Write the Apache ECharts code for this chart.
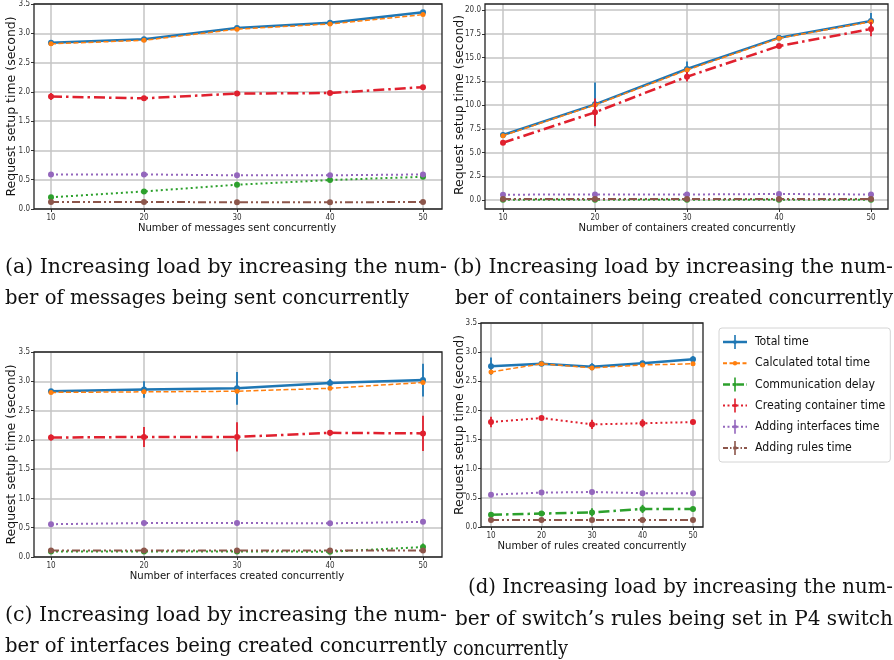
<!DOCTYPE html>
<html>
<head>
<meta charset="utf-8">
<script src="https://cdn.jsdelivr.net/npm/echarts@6/dist/echarts.min.js"></script>
<style>
html, body { margin: 0; padding: 0; background: #fff; }
#chart { width: 894px; height: 660px; }
</style>
</head>
<body>
<div id="chart"></div>
<script>
// x values shared by all four panels
const xValues = [10, 20, 30, 40, 50];

const seriesNames = ['Total time', 'Calculated total time', 'Communication delay',
  'Creating container time', 'Adding interfaces time', 'Adding rules time'];

// (a) messages sent concurrently
const aTotal = [2.84, 2.90, 3.09, 3.18, 3.36];
const aTotalErr = [0.03, 0.02, 0.02, 0.02, 0.03];
const aCalc = [2.82, 2.88, 3.07, 3.16, 3.32];
const aComm = [0.20, 0.30, 0.415, 0.495, 0.55];
const aCont = [1.92, 1.89, 1.97, 1.98, 2.08];
const aContErr = [0.06, 0.02, 0.03, 0.03, 0.03];
const aIntf = [0.59, 0.59, 0.575, 0.575, 0.59];
const aRules = [0.12, 0.12, 0.115, 0.115, 0.12];

// (b) containers created concurrently
const bTotal = [6.84, 10.07, 13.79, 17.09, 18.84];
const bTotalErr = [0.3, 2.3, 0.8, 0.2, 0.85];
const bCalc = [6.77, 10.0, 13.68, 17.02, 18.77];
const bComm = [0.03, 0.03, 0.03, 0.03, 0.03];
const bCont = [6.03, 9.23, 12.98, 16.21, 18.0];
const bContErr = [0.2, 1.45, 0.5, 0.2, 0.75];
const bIntf = [0.56, 0.58, 0.58, 0.63, 0.58];
const bRules = [0.1, 0.1, 0.1, 0.1, 0.1];

// (c) interfaces created concurrently
const cTotal = [2.83, 2.86, 2.88, 2.97, 3.02];
const cTotalErr = [0.03, 0.14, 0.28, 0.07, 0.28];
const cCalc = [2.81, 2.82, 2.83, 2.88, 2.98];
const cComm = [0.095, 0.095, 0.095, 0.09, 0.17];
const cCommErr = [0, 0, 0, 0, 0.06];
const cCont = [2.04, 2.05, 2.05, 2.12, 2.11];
const cContErr = [0.05, 0.17, 0.25, 0.05, 0.30];
const cIntf = [0.56, 0.58, 0.58, 0.575, 0.60];
const cRules = [0.11, 0.11, 0.11, 0.11, 0.11];

// (d) switch rules created concurrently
const dTotal = [2.76, 2.80, 2.75, 2.81, 2.88];
const dTotalErr = [0.15, 0.03, 0.06, 0.03, 0.05];
const dCalc = [2.66, 2.80, 2.73, 2.78, 2.80];
const dComm = [0.21, 0.23, 0.25, 0.31, 0.31];
const dCommErr = [0.03, 0.04, 0.07, 0.07, 0.03];
const dCont = [1.80, 1.87, 1.76, 1.78, 1.80];
const dContErr = [0.09, 0.03, 0.08, 0.07, 0.04];
const dIntf = [0.555, 0.59, 0.60, 0.58, 0.58];
const dRules = [0.12, 0.12, 0.12, 0.12, 0.12];

const colors = ['#1f77b4', '#ff7f0e', '#2ca02c', '#e0202e', '#9467bd', '#8c564b'];

// line styles: [dash, width]
const SOLID = 'solid';
const DASH = [5, 2.5];
const DASHDOT = [11, 4, 2.5, 4];
const DOT = [2, 3];
const DDOT = [8, 3, 2, 3, 2, 3];
const stylesABC = [[SOLID, 2.5], [DASH, 1.5], [DOT, 2], [DASHDOT, 2.5], [DOT, 2], [DDOT, 2]];
const stylesD = [[SOLID, 2.5], [DASH, 1.5], [DASHDOT, 2.5], [DOT, 2], [DOT, 2], [DDOT, 2]];

const yTitle = 'Request setup time (second)';
const sansCond = '"DejaVu Sans Condensed", "Liberation Sans Narrow", "DejaVu Sans", sans-serif';

// frame: [left, top, right, bottom]
const panels = [
  { frame: [34, 4, 442, 209], x10: 51, x50: 423, yTop: 4, y0: 209, yMax: 3.5, yStep: 0.5, nameGapY: 16,
    xName: 'Number of messages sent concurrently', styles: stylesABC,
    vals: [aTotal, aCalc, aComm, aCont, aIntf, aRules], errs: [aTotalErr, null, null, aContErr, null, null] },
  { frame: [485, 4, 888, 209], x10: 503, x50: 871, yTop: 10, y0: 200, yMax: 20, yStep: 2.5, nameGapY: 18.5,
    xName: 'Number of containers created concurrently', styles: stylesABC,
    vals: [bTotal, bCalc, bComm, bCont, bIntf, bRules], errs: [bTotalErr, null, null, bContErr, null, null] },
  { frame: [34, 352, 442, 557], x10: 51, x50: 423, yTop: 352, y0: 557, yMax: 3.5, yStep: 0.5, nameGapY: 16,
    xName: 'Number of interfaces created concurrently', styles: stylesABC,
    vals: [cTotal, cCalc, cComm, cCont, cIntf, cRules], errs: [cTotalErr, null, cCommErr, cContErr, null, null] },
  { frame: [481, 323, 703, 527], x10: 491, x50: 693, yTop: 323, y0: 527, yMax: 3.5, yStep: 0.5, nameGapY: 14.5,
    xName: 'Number of rules created concurrently', styles: stylesD,
    vals: [dTotal, dCalc, dComm, dCont, dIntf, dRules], errs: [dTotalErr, null, dCommErr, dContErr, null, null] }
];

const grid = [], xAxis = [], yAxis = [], series = [];
const hidden = (min, max, gi) => ({ type: 'value', gridIndex: gi, show: false, min: min, max: max });
const tickStyle = { show: true, length: 3, lineStyle: { color: '#333', width: 1 } };
const splitStyle = { show: true, lineStyle: { color: '#c4c4c4', width: 1.5 } };

panels.forEach((p, k) => {
  const [L, T, R, B] = p.frame;
  const g0 = k * 4;
  // frame
  grid.push({ left: L, top: T, width: R - L, height: B - T, show: true, borderColor: '#222', borderWidth: 1.3, backgroundColor: 'transparent', z: 3, outerBoundsMode: 'none' });
  xAxis.push(hidden(0, 1, g0));
  yAxis.push(hidden(0, 1, g0));
  // x axis grid
  grid.push({ left: p.x10, top: T, width: p.x50 - p.x10, height: B - T, outerBoundsMode: 'none' });
  xAxis.push({
    type: 'value', gridIndex: g0 + 1, min: 10, max: 50, interval: 10,
    axisLine: { show: false }, axisTick: tickStyle, splitLine: splitStyle,
    axisLabel: { fontSize: 8, margin: 5, color: '#333', fontFamily: sansCond },
    name: p.xName, nameLocation: 'middle', nameGap: 14, nameMoveOverlap: false,
    nameTextStyle: { fontSize: 11.2, color: '#111', fontFamily: sansCond }
  });
  yAxis.push(hidden(0, 1, g0 + 1));
  // y axis grid
  grid.push({ left: L, top: p.yTop, width: R - L, height: p.y0 - p.yTop, outerBoundsMode: 'none' });
  xAxis.push(hidden(0, 1, g0 + 2));
  yAxis.push({
    type: 'value', gridIndex: g0 + 2, min: 0, max: p.yMax, interval: p.yStep,
    axisLine: { show: false }, axisTick: tickStyle, splitLine: splitStyle,
    axisLabel: { fontSize: 8, margin: 4, color: '#333', fontFamily: sansCond, formatter: v => v.toFixed(1) },
    name: yTitle, nameLocation: 'middle', nameGap: p.nameGapY, nameMoveOverlap: false,
    nameTextStyle: { fontSize: 12.5, color: '#111', fontFamily: '"DejaVu Sans", sans-serif' }
  });
  // data grid
  grid.push({ left: p.x10, top: p.yTop, width: p.x50 - p.x10, height: p.y0 - p.yTop, outerBoundsMode: 'none' });
  xAxis.push(hidden(10, 50, g0 + 3));
  yAxis.push(hidden(0, p.yMax, g0 + 3));

  p.vals.forEach((vals, i) => {
    const [dash, w] = p.styles[i];
    series.push({
      name: seriesNames[i], type: 'line', xAxisIndex: g0 + 3, yAxisIndex: g0 + 3,
      data: xValues.map((x, j) => [x, vals[j]]),
      symbol: 'circle', symbolSize: i === 1 ? 5 : 6, clip: false,
      lineStyle: { color: colors[i], width: w, type: dash },
      itemStyle: { color: colors[i], borderWidth: 0 },
      z: 4 + i * 0.1
    });
    const err = p.errs[i];
    if (err) {
      series.push({
        type: 'custom', xAxisIndex: g0 + 3, yAxisIndex: g0 + 3, clip: false, silent: true,
        data: xValues.map((x, j) => [x, vals[j], err[j]]),
        z: 4 + i * 0.1,
        renderItem: (params, api) => {
          const x = api.value(0), y = api.value(1), e = api.value(2);
          const p1 = api.coord([x, y - e]), p2 = api.coord([x, y + e]);
          return { type: 'line', shape: { x1: p1[0], y1: p1[1], x2: p2[0], y2: p2[1] },
            style: { stroke: colors[i], lineWidth: 1.8 } };
        }
      });
    }
  });
});

// legend icons: dashed line + error bar + marker, drawn in a 24 x 14 box
function rectPath(x, y, w, h) {
  return `M${x} ${y}L${x + w} ${y}L${x + w} ${y + h}L${x} ${y + h}Z`;
}
function legendIcon(dash, lw, bar, r) {
  let p = 'M0 0M24 14';
  const y = 7 - lw / 2;
  if (dash === SOLID) {
    p += rectPath(0, y, 24, lw);
  } else {
    let x = 0, i = 0;
    while (x < 24) {
      const len = dash[i % dash.length];
      if (i % 2 === 0) p += rectPath(x, y, Math.min(len, 24 - x), lw);
      x += len;
      i++;
    }
  }
  if (bar) p += rectPath(11.2, 0, 1.6, 14);
  p += `M${12 - r} 7A${r} ${r} 0 1 1 ${12 + r} 7A${r} ${r} 0 1 1 ${12 - r} 7Z`;
  return 'path://' + p;
}
const legendIcons = [
  legendIcon(SOLID, 2.5, true, 2),
  legendIcon([4, 2.5], 2, false, 2.2),
  legendIcon([7, 2.5, 2, 2.5], 2.5, true, 2),
  legendIcon([2, 2.5], 2, true, 2),
  legendIcon([2, 2.5], 2, true, 2),
  legendIcon([5, 2, 1.5, 2], 2, true, 2)
];

// captions: left edge, right edge, middle y
const captionFont = '20.5px "DejaVu Serif", "Liberation Serif", serif';
const captions = [
  { x1: 5, x2: 447, y: 268, t: '(a) Increasing load by increasing the num-' },
  { x1: 5, x2: 409, y: 299, t: 'ber of messages being sent concurrently' },
  { x1: 453, x2: 893, y: 268, t: '(b) Increasing load by increasing the num-' },
  { x1: 455, x2: 893, y: 299, t: 'ber of containers being created concurrently' },
  { x1: 5, x2: 447, y: 616, t: '(c) Increasing load by increasing the num-' },
  { x1: 5, x2: 447, y: 647, t: 'ber of interfaces being created concurrently' },
  { x1: 468, x2: 893, y: 588, t: '(d) Increasing load by increasing the num-' },
  { x1: 455, x2: 893, y: 620, t: 'ber of switch\u2019s rules being set in P4 switch' },
  { x1: 453, x2: 568, y: 650, t: 'concurrently' }
];
const measureCtx = document.createElement('canvas').getContext('2d');
measureCtx.font = captionFont;

const chart = echarts.init(document.getElementById('chart'), null, { renderer: 'canvas' });
chart.setOption({
  animation: false,
  backgroundColor: '#fff',
  grid: grid,
  xAxis: xAxis,
  yAxis: yAxis,
  series: series,
  legend: {
    orient: 'vertical', left: 719, top: 328,
    itemWidth: 24, itemHeight: 14, itemGap: 7.2,
    padding: [7, 5, 7, 4],
    borderColor: '#d4d4d4', borderWidth: 1, borderRadius: 3,
    selectedMode: false,
    itemStyle: { borderWidth: 0 },
    textStyle: { fontSize: 12.2, color: '#111', fontFamily: sansCond, padding: [0, 0, 0, 3] },
    data: seriesNames.map((n, i) => ({ name: n, icon: legendIcons[i], itemStyle: { color: colors[i] } }))
  },
  graphic: captions.map(c => ({
    type: 'text', x: c.x1, y: c.y,
    scaleX: (c.x2 - c.x1) / measureCtx.measureText(c.t).width,
    style: { text: c.t, font: captionFont, fill: '#111', verticalAlign: 'middle', align: 'left' }
  }))
});
</script>
</body>
</html>
